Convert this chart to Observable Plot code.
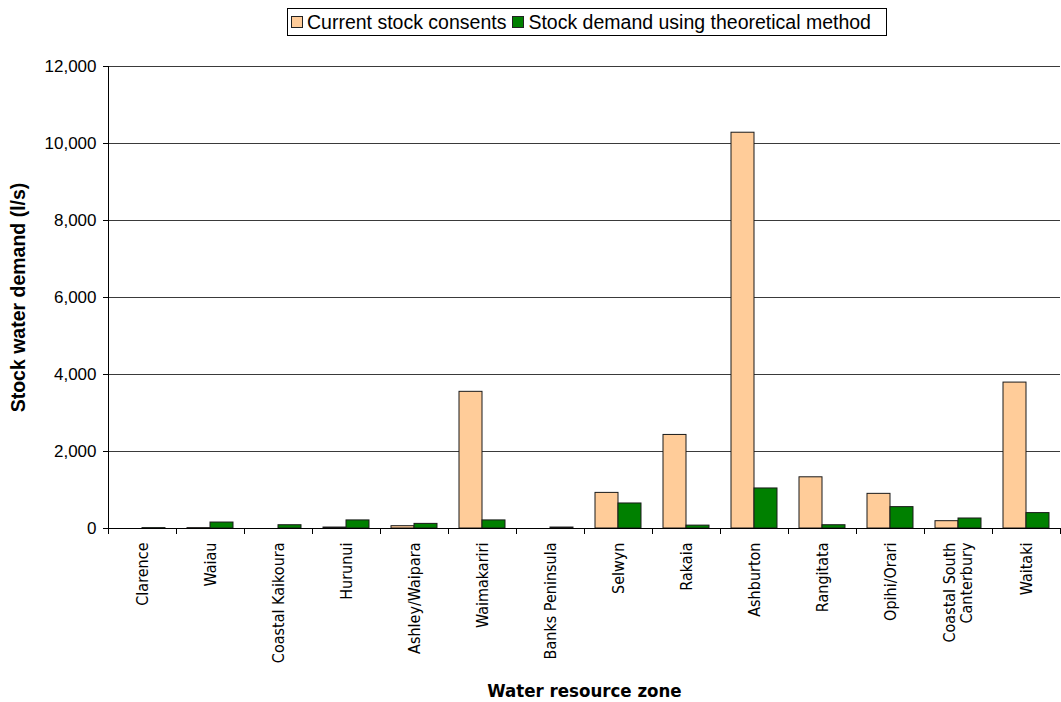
<!DOCTYPE html>
<html>
<head>
<meta charset="utf-8">
<script src="https://cdn.jsdelivr.net/npm/d3@7"></script>
<script src="https://cdn.jsdelivr.net/npm/@observablehq/plot@0.6"></script>
<style>
  html, body { margin: 0; padding: 0; background: #fff; }
  body { width: 1061px; height: 702px; overflow: hidden; position: relative; font-family: "Liberation Sans", Arial, sans-serif; }
  #legend { position: absolute; left: 287px; top: 8px; width: 600px; height: 28px; border: 1px solid #000; display: flex; align-items: center; padding: 0 0 0 3px; font-size: 19.5px; color: #000; white-space: nowrap; box-sizing: border-box; }
  #legend .sw { display: inline-block; width: 10px; height: 10px; border: 1px solid #222; margin-right: 4px; }
  #legend .item { display: inline-flex; align-items: center; margin-right: 6px; }
  #legend .item:last-child { margin-right: 0; }
  #chart { position: absolute; left: 0; top: 45px; }
</style>
</head>
<body>
<div id="legend"></div>
<div id="chart"></div>
<script>
const zones = ["Clarence", "Waiau", "Coastal Kaikoura", "Hurunui", "Ashley/Waipara", "Waimakariri", "Banks Peninsula", "Selwyn", "Rakaia", "Ashburton", "Rangitata", "Opihi/Orari", "Coastal South\nCanterbury", "Waitaki"];
const consents = [0, 10, 0, 25, 60, 3550, 0, 925, 2430, 10280, 1330, 900, 190, 3790];
const theoretical = [10, 155, 85, 210, 120, 210, 25, 650, 75, 1040, 85, 555, 260, 400];
const seriesNames = ["Current stock consents", "Stock demand using theoretical method"];
const seriesColors = ["#FFCC99", "#008000"];
const yTicks = [0, 2000, 4000, 6000, 8000, 10000, 12000];

const rows = zones.flatMap((z, i) => [
  {zone: z, series: seriesNames[0], value: consents[i]},
  {zone: z, series: seriesNames[1], value: theoretical[i]}
]);

// legend
const legend = d3.select("#legend");
seriesNames.forEach((s, i) => {
  const item = legend.append("span").attr("class", "item");
  item.append("span").attr("class", "sw").style("background", seriesColors[i]);
  item.append("span").text(s);
});

const fmt = d3.format(",.0f");

const chart = Plot.plot({
  width: 1061,
  height: 657,
  marginTop: 21,
  marginBottom: 174,
  marginLeft: 106,
  marginRight: 0,
  style: {fontFamily: "Liberation Sans, Arial, sans-serif", fontSize: "17px", color: "#000", background: "#fff", overflow: "visible"},
  fx: {domain: zones, padding: 0, label: "Water resource zone"},
  x: {domain: seriesNames, paddingInner: 0, paddingOuter: 0.42, axis: null},
  y: {domain: [0, 12000], label: "Stock water demand (l/s)"},
  color: {domain: seriesNames, range: seriesColors},
  marks: [
    Plot.ruleY(yTicks.slice(1), {stroke: "#3a3a3a", strokeWidth: 1}),
    Plot.barY(rows, {fx: "zone", x: "series", y: "value", fill: "series", stroke: "#1a1a1a", strokeWidth: 1}),
    Plot.ruleY([0], {stroke: "#000", strokeWidth: 1}),
    Plot.axisY({ticks: yTicks, tickFormat: fmt, tickSize: 5, tickPadding: 7, fontSize: 17,
      label: "Stock water demand (l/s)", labelAnchor: "center", labelOffset: 97, labelArrow: "none"}),
    Plot.axisFx({anchor: "bottom", tickSize: 0, tickPadding: 14, tickRotate: -90, fontSize: 16,
      fontFamily: "DejaVu Sans Condensed", lineHeight: 1.05,
      label: "Water resource zone", labelAnchor: "center", labelOffset: 168, labelArrow: "none"})
  ]
});
document.getElementById("chart").appendChild(chart);

// axis lines and category tick marks from the library's scales
const fx = chart.scale("fx");
const y = chart.scale("y");
const svg = d3.select(chart.tagName === "svg" ? chart : chart.querySelector("svg"));
const y0 = y.apply(0);
const yTop = y.apply(12000);
const edges = zones.map(z => fx.apply(z)).concat([fx.apply(zones[zones.length - 1]) + fx.bandwidth]);
const g = svg.append("g").attr("stroke", "#000").attr("stroke-width", 1);
g.append("line").attr("x1", edges[0] + 0.5).attr("x2", edges[0] + 0.5).attr("y1", yTop).attr("y2", y0);
g.selectAll("line.t").data(edges).join("line").attr("class", "t")
  .attr("x1", d => d + 0.5).attr("x2", d => d + 0.5).attr("y1", y0).attr("y2", y0 + 6);
// bold axis titles
svg.selectAll("g[aria-label='y-axis label']").style("font-weight", "bold").style("font-size", "19.5px");
svg.selectAll("g[aria-label='fx-axis label']").style("font-weight", "bold").style("font-size", "18.5px");
</script>
</body>
</html>
